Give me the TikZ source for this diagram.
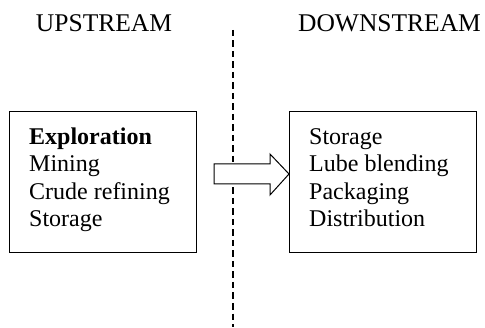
\documentclass[tikz,border=0pt]{standalone}
\usepackage{fontspec}
\setmainfont{Liberation Serif}
\begin{document}
\begin{tikzpicture}[x=1pt,y=1pt,
  boxstyle/.style={draw, line width=1pt, inner sep=0pt, anchor=south west},
  listtext/.style={anchor=base west, align=left, inner sep=0pt, font=\fontsize{24}{27.6}\selectfont},
  headtext/.style={anchor=base, inner sep=0pt, font=\fontsize{25.5}{28}\selectfont},
  divider/.style={line width=1.1pt, dash pattern=on 6.5pt off 4pt},
  blockarrow/.style={draw, fill=white, line width=1pt, line join=miter}]
\useasboundingbox (0,0) rectangle (485,327);
\node[headtext] (up) at (104,295) {UPSTREAM};
\node[headtext] (down) at (389.5,295) {DOWNSTREAM};
\coordinate (dtop) at (233,297);
\coordinate (dbot) at (233,0);
\draw[divider] (dtop) -- (dbot);
\node[boxstyle, minimum width=187pt, minimum height=141pt] (lbox) at (9,74) {};
\node[boxstyle, minimum width=187pt, minimum height=141pt] (rbox) at (289,74) {};
\node[listtext] (ltext) at (29,100) {\textbf{Exploration}\\Mining\\Crude refining\\Storage};
\node[listtext] (rtext) at (309,100) {Storage\\Lube blending\\Packaging\\Distribution};
\draw[blockarrow] (214,163) -- (270,163) -- (270,173) -- (rbox.west |- 0,153) -- (270,132) -- (270,143) -- (214,143) -- cycle;
\end{tikzpicture}
\end{document}
